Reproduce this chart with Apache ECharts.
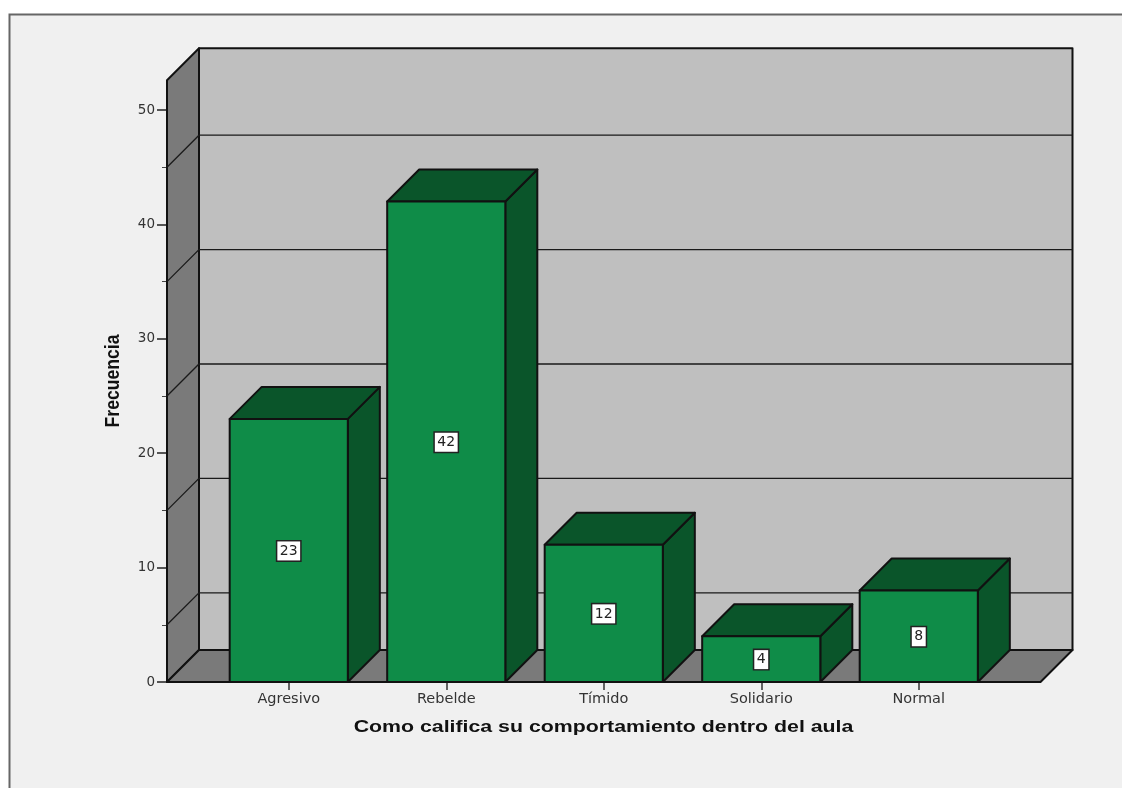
<!DOCTYPE html>
<html>
<head>
<meta charset="utf-8">
<style>html,body{margin:0;padding:0;background:#fff}#c{width:1122px;height:788px}</style>
<script src="https://cdn.jsdelivr.net/npm/echarts@6/dist/echarts.min.js"></script>
</head>
<body>
<div id="c"></div>
<script>
const categories = ['Agresivo', 'Rebelde', 'Tímido', 'Solidario', 'Normal'];
const frequencies = [23, 42, 12, 4, 8];
const wallGridValues = [5, 15, 25, 35, 45];
const wallTopValue = 52.6;
const xAxisTitle = 'Como califica su comportamiento dentro del aula';
const yAxisTitle = 'Frecuencia';

const DEPTH = 32;
const BAR_RATIO = 0.75;
const FLOOR_MARGIN_BANDS = 0.773;
const INK = '#111';

function poly(points, fill, z2) {
  return {
    type: 'polygon', z2: z2 || 0,
    shape: { points: points },
    style: { fill: fill, stroke: INK, lineWidth: 2, lineJoin: 'round' }
  };
}

function renderWalls(params, api) {
  const band = api.size([1, 0])[0];
  const p0 = api.coord([0, 0]);
  const pN = api.coord([categories.length - 1, 0]);
  const pT = api.coord([0, wallTopValue]);
  const xL = p0[0] - FLOOR_MARGIN_BANDS * band;
  const xR = pN[0] + FLOOR_MARGIN_BANDS * band;
  const y0 = p0[1], yT = pT[1];
  const children = [
    poly([[xL + DEPTH, yT - DEPTH], [xR + DEPTH, yT - DEPTH], [xR + DEPTH, y0 - DEPTH], [xL + DEPTH, y0 - DEPTH]], '#bfbfbf'),
    poly([[xL, yT], [xL + DEPTH, yT - DEPTH], [xL + DEPTH, y0 - DEPTH], [xL, y0]], '#7a7a7a'),
    poly([[xL, y0], [xL + DEPTH, y0 - DEPTH], [xR + DEPTH, y0 - DEPTH], [xR, y0]], '#7a7a7a')
  ];
  wallGridValues.forEach(function (v) {
    const y = api.coord([0, v])[1];
    children.push({
      type: 'polyline', z2: 1,
      shape: { points: [[xL, y], [xL + DEPTH, y - DEPTH], [xR + DEPTH, y - DEPTH]] },
      style: { fill: null, stroke: '#1a1a1a', lineWidth: 1.3 }
    });
  });
  return { type: 'group', children: children };
}

function renderBar(params, api) {
  const idx = api.value(0), val = api.value(1);
  const base = api.coord([idx, 0]);
  const top = api.coord([idx, val]);
  const w = api.size([1, 0])[0] * BAR_RATIO;
  const l = base[0] - w / 2, r = base[0] + w / 2, b = base[1], t = top[1];
  const midY = api.coord([idx, val / 2])[1];
  return {
    type: 'group',
    children: [
      poly([[r, t], [r + DEPTH, t - DEPTH], [r + DEPTH, b - DEPTH], [r, b]], '#0a552a'),
      poly([[l, t], [l + DEPTH, t - DEPTH], [r + DEPTH, t - DEPTH], [r, t]], '#0a552a'),
      poly([[l, t], [r, t], [r, b], [l, b]], '#0f8c48'),
      {
        type: 'text', z2: 5,
        style: {
          x: base[0], y: midY + 0.5, text: String(val),
          align: 'center', verticalAlign: 'middle',
          fontFamily: 'DejaVu Sans', fontSize: 14, fill: '#222',
          backgroundColor: '#fff', borderColor: '#222', borderWidth: 1.5,
          padding: [3, 2.5, 2, 2.5]
        }
      }
    ]
  };
}

const chart = echarts.init(document.getElementById('c'), null, { renderer: 'canvas' });
chart.setOption({
  animation: false,
  backgroundColor: 'transparent',
  graphic: [
    {
      type: 'rect', z: -10, silent: true,
      shape: { x: 9.5, y: 14.5, width: 1200, height: 900 },
      style: { fill: '#f0f0f0', stroke: '#666', lineWidth: 2 }
    },
    {
      type: 'text', z: 10, silent: true,
      x: 603.5, y: 728, scaleX: 1.332, scaleY: 1,
      style: { text: xAxisTitle, align: 'center', verticalAlign: 'middle', fontFamily: 'Liberation Sans', fontWeight: 'bold', fontSize: 16, fill: '#111' }
    },
    {
      type: 'text', z: 10, silent: true,
      x: 113.5, y: 381, rotation: Math.PI / 2, scaleX: 0.88, scaleY: 1,
      style: { text: yAxisTitle, align: 'center', verticalAlign: 'middle', fontFamily: 'Liberation Sans', fontWeight: 'bold', fontSize: 20, fill: '#111' }
    }
  ],
  grid: { left: 210, top: 110, width: 787.5, height: 572 },
  xAxis: {
    type: 'category',
    data: categories,
    axisLine: { show: false },
    axisTick: { show: true, alignWithLabel: true, length: 8, lineStyle: { color: '#333', width: 1.5 } },
    axisLabel: { fontFamily: 'DejaVu Sans', fontSize: 14.5, color: '#333', margin: 10 }
  },
  yAxis: {
    type: 'value',
    min: 0, max: 50, interval: 10,
    offset: 43,
    axisLine: { show: false },
    axisTick: { show: true, length: 10, lineStyle: { color: '#222', width: 1.5 } },
    minorTick: { show: true, splitNumber: 2, length: 5, lineStyle: { color: '#444', width: 1 } },
    axisLabel: { fontFamily: 'DejaVu Sans', fontSize: 13.5, color: '#333', margin: 12 },
    splitLine: { show: false },
    minorSplitLine: { show: false }
  },
  tooltip: { show: false },
  series: [
    { type: 'custom', name: 'walls', renderItem: renderWalls, data: [[0, 0]], encode: { x: 0, y: 1 }, silent: true, clip: false, z: 1 },
    { type: 'custom', name: 'Frecuencia', renderItem: renderBar, data: frequencies.map(function (v, i) { return [i, v]; }), encode: { x: 0, y: 1 }, clip: false, z: 2 }
  ]
});
</script>
</body>
</html>
